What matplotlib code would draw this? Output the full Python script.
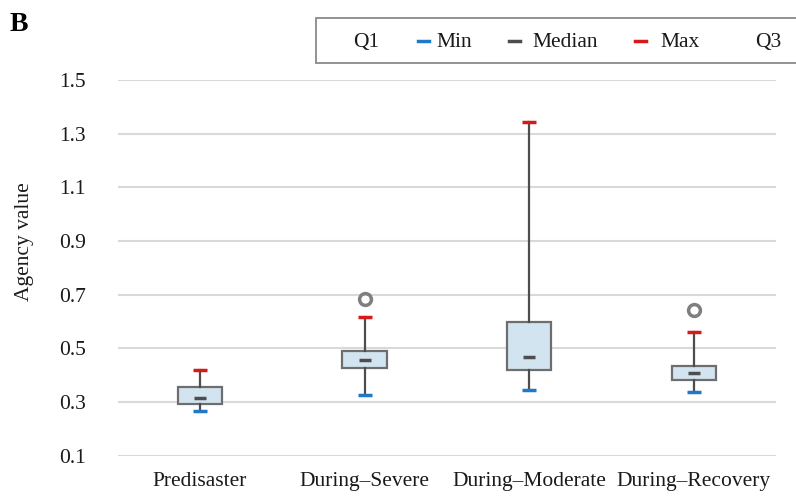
import matplotlib.pyplot as plt
from matplotlib.lines import Line2D
from matplotlib.patches import Rectangle
import numpy as np

plt.rcParams['font.family'] = ['Liberation Serif', 'DejaVu Serif']

categories = ['Predisaster', 'During\u2013Severe', 'During\u2013Moderate', 'During\u2013Recovery']
mins = [0.266, 0.326, 0.345, 0.337]
q1s = [0.293, 0.427, 0.419, 0.382]
medians = [0.315, 0.456, 0.468, 0.408]
q3s = [0.356, 0.490, 0.598, 0.434]
maxs = [0.420, 0.617, 1.344, 0.561]
outliers = [[], [0.684], [], [0.643]]
yticks = [0.1, 0.3, 0.5, 0.7, 0.9, 1.1, 1.3, 1.5]

blue = '#1f78c8'
red = '#d7191c'
dark = '#4d4d4d'

W, H = 796, 496
fig = plt.figure(figsize=(W / 100, H / 100), dpi=100)
ax = fig.add_axes([0.148, 0.081, 0.827, 0.758])

stats = []
for i in range(len(categories)):
    stats.append({'med': medians[i], 'q1': q1s[i], 'q3': q3s[i],
                  'whislo': mins[i], 'whishi': maxs[i], 'fliers': outliers[i],
                  'label': categories[i]})

pos = np.arange(len(categories))
ax.bxp(stats, positions=pos, widths=0.27, patch_artist=True, showcaps=False,
       boxprops=dict(facecolor='#d3e4f1', edgecolor='#6e6e6e', linewidth=1.6),
       whiskerprops=dict(color=dark, linewidth=1.6),
       medianprops=dict(linewidth=0),
       flierprops=dict(marker='o', markerfacecolor='none', markeredgecolor='#7f7f7f',
                       markersize=8.5, markeredgewidth=2.5),
       zorder=3)

ax.plot(pos, mins, linestyle='none', marker='_', color=blue, markersize=10.5, mew=2.5, zorder=4)
ax.plot(pos, maxs, linestyle='none', marker='_', color=red, markersize=10.5, mew=2.5, zorder=4)
ax.plot(pos, medians, linestyle='none', marker='_', color=dark, markersize=9, mew=2.5, zorder=4)

ax.set_xlim(-0.5, len(categories) - 0.5)
ax.set_ylim(0.1, 1.5)
ax.set_yticks(yticks)
ax.set_yticklabels([f'{t:.1f}' for t in yticks])
ax.set_xticks(pos)
ax.set_xticklabels(categories)
ax.tick_params(axis='both', length=0, labelsize=15.5, colors='#1a1a1a')
ax.tick_params(axis='y', pad=23)
ax.tick_params(axis='x', pad=12)
ax.grid(axis='y', color='#d9d9d9', linewidth=1.5, zorder=0)
ax.set_axisbelow(True)
for s in ax.spines.values():
    s.set_visible(False)
ax.set_ylabel('Agency value', fontsize=15.5, color='#1a1a1a')
ax.yaxis.set_label_coords(-0.128, 0.569)

# legend drawn by hand so that Q3 stays inside the picture (frame runs off the right edge)
fig.add_artist(Rectangle((316 / W, 1 - 63 / H), 500 / W, 45 / H, transform=fig.transFigure,
                         facecolor='white', edgecolor='#8a8a8a', linewidth=1.3))
leg_labels = ['Q1', 'Min', 'Median', 'Max', 'Q3']
leg_colors = [None, blue, dark, red, None]
leg_text_x = [353, 436, 532, 660, 755]
leg_mark_x = [None, 418, 509, 635, None]
for lab, col, tx, mx in zip(leg_labels, leg_colors, leg_text_x, leg_mark_x):
    fig.text(tx / W, 1 - 47 / H, lab, fontsize=15.5, va='baseline', ha='left', color='#1a1a1a')
    if col is not None:
        fig.add_artist(Line2D([mx / W, (mx + 11) / W], [1 - 41 / H, 1 - 41 / H],
                              transform=fig.transFigure, color=col, linewidth=2.5))

fig.text(0.012, 0.937, 'B', fontsize=20, fontweight='bold')

fig.savefig('out.png', dpi=100)
